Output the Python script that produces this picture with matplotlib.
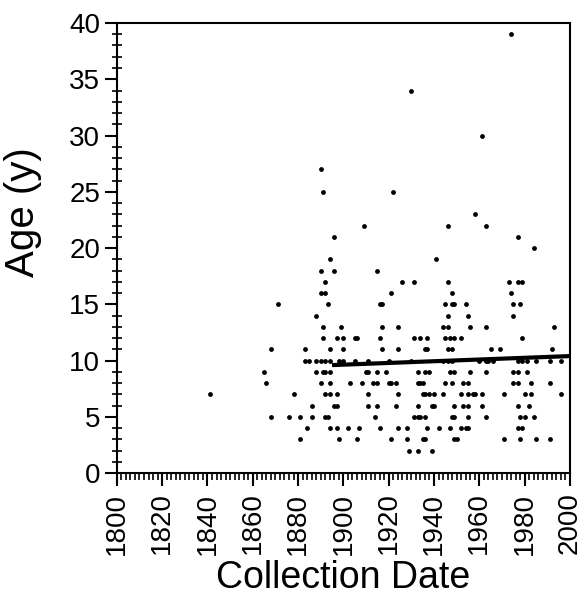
import numpy as np
import matplotlib
matplotlib.use("Agg")
import matplotlib.pyplot as plt
from matplotlib.ticker import MultipleLocator

plt.rcParams['font.family'] = ['Liberation Sans', 'DejaVu Sans']

# collection years grouped by age (y)
years_by_age = {
    39: [1974],
    34: [1930],
    30: [1961],
    27: [1890],
    25: [1891, 1922],
    23: [1958],
    22: [1909, 1946, 1963],
    21: [1896, 1977],
    20: [1984],
    19: [1894, 1941],
    18: [1890, 1896, 1915],
    17: [1892, 1926, 1931, 1946, 1973, 1977, 1979],
    16: [1890, 1892, 1921, 1948, 1974],
    15: [1871, 1893, 1916, 1917, 1945, 1948, 1949, 1954, 1975, 1978],
    14: [1888, 1946, 1955, 1975],
    13: [1891, 1899, 1917, 1924, 1944, 1946, 1956, 1963, 1993],
    12: [1891, 1897, 1900, 1905, 1906, 1916, 1931, 1934, 1937, 1945, 1947,
         1949, 1952, 1979],
    11: [1868, 1883, 1894, 1900, 1917, 1924, 1936, 1937, 1946, 1948, 1965,
         1969, 1992],
    10: [1883, 1885, 1888, 1890, 1892, 1894, 1898, 1900, 1905, 1911, 1920,
         1930, 1944, 1946, 1948, 1960, 1963, 1964, 1966, 1977, 1979, 1981,
         1985, 1991, 1996],
    9: [1865, 1888, 1891, 1892, 1894, 1910, 1911, 1915, 1919, 1933, 1936,
        1938, 1947, 1949, 1956, 1963, 1975, 1977, 1981],
    8: [1866, 1890, 1894, 1903, 1908, 1913, 1915, 1920, 1921, 1923, 1933,
        1934, 1935, 1945, 1948, 1953, 1955, 1975, 1977, 1983, 1991],
    7: [1841, 1878, 1892, 1894, 1897, 1911, 1924, 1935, 1936, 1938, 1940,
        1944, 1952, 1955, 1957, 1958, 1961, 1971, 1980, 1983, 1996],
    6: [1886, 1896, 1897, 1911, 1915, 1923, 1933, 1939, 1940, 1949, 1953,
        1955, 1961, 1977, 1982],
    5: [1868, 1876, 1881, 1886, 1892, 1893, 1914, 1931, 1933, 1934, 1936,
        1948, 1949, 1955, 1963, 1978, 1980, 1984],
    4: [1884, 1894, 1897, 1902, 1907, 1916, 1924, 1928, 1937, 1942, 1947,
        1952, 1954, 1955, 1977, 1979],
    3: [1881, 1898, 1906, 1921, 1928, 1935, 1936, 1949, 1950, 1971, 1978,
        1985, 1991],
    2: [1929, 1933, 1939],
}

# regression line end points
trend_years = [1895, 2000]
trend_age = [9.6, 10.4]

dates = []
ages = []
for age, yrs in years_by_age.items():
    for yr in yrs:
        dates.append(yr)
        ages.append(age)

fig = plt.figure(figsize=(5.84, 5.97), dpi=100)
ax = fig.add_axes([0.2, 0.2075, 0.776, 0.754])

ax.scatter(dates, ages, s=12, color='black', linewidths=0, zorder=3)
ax.plot(trend_years, trend_age, color='black', linewidth=3, zorder=4,
        solid_capstyle='butt')

ax.set_xlim(1800, 2000)
ax.set_ylim(0, 40)
ax.xaxis.set_major_locator(MultipleLocator(20))
ax.xaxis.set_minor_locator(MultipleLocator(2))
ax.yaxis.set_major_locator(MultipleLocator(5))
ax.yaxis.set_minor_locator(MultipleLocator(1))

for s in ax.spines.values():
    s.set_linewidth(1.5)

ax.tick_params(axis='x', which='major', direction='out', length=9, width=1.5,
               labelsize=20, labelrotation=90, pad=5)
ax.tick_params(axis='x', which='minor', direction='out', length=5, width=1.2)
ax.tick_params(axis='y', which='major', direction='out', length=9, width=1.5,
               labelsize=20, pad=3)
ax.tick_params(axis='y', which='minor', direction='inout', length=7, width=1.2)

ax.set_xlabel("Collection Date", fontsize=27, labelpad=4)
ax.set_ylabel("Age (y)", fontsize=29)
ax.yaxis.set_label_coords(-0.165, 0.58)

fig.savefig("out.png", dpi=100)
